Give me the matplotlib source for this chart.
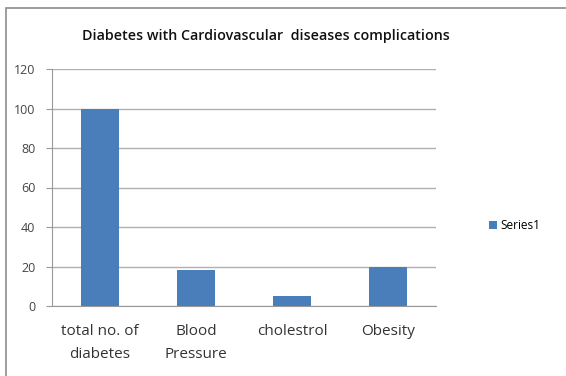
import matplotlib.pyplot as plt
from matplotlib.patches import Rectangle

# 数据
categories = ['total no. of\ndiabetes', 'Blood\nPressure', 'cholestrol', 'Obesity']
values = [100, 18, 5, 20]
y_ticks = [0, 20, 40, 60, 80, 100, 120]

plt.rcParams['font.family'] = ['Open Sans', 'DejaVu Sans']

fig = plt.figure(figsize=(5.66, 3.76), dpi=100)
# 外边框
fig.patches.append(Rectangle((6 / 566, -0.01), 1.0, 1 - 8 / 376 + 0.01, transform=fig.transFigure,
                             fill=False, edgecolor='#8c8c8c', linewidth=1.2))

ax = fig.add_axes([52 / 566, 1 - 306 / 376, 384 / 566, 237 / 376])
x = range(len(categories))
ax.bar(x, values, width=0.4, color='#4a7ebb', label='Series1', zorder=3)

ax.set_xlim(-0.5, len(categories) - 0.5)
ax.set_ylim(0, 120)
ax.set_yticks(y_ticks)
ax.set_xticks(list(x))
ax.set_xticklabels(categories, fontsize=11, color='#333333', linespacing=1.75)
ax.tick_params(axis='y', labelsize=9, colors='#444444', length=4, color='#999999', pad=8)
ax.tick_params(axis='x', length=0, pad=13)
ax.grid(axis='y', color='#b0b0b0', linewidth=1, zorder=0)
for s in ['top', 'right']:
    ax.spines[s].set_visible(False)
ax.spines['left'].set_color('#999999')
ax.spines['bottom'].set_color('#999999')

fig.text(0.47, 1 - 36 / 376, 'Diabetes with Cardiovascular  diseases complications',
         ha='center', va='center', fontsize=10.3, fontweight='semibold', color='#111111')

ax.legend(loc='center left', bbox_to_anchor=(1.11, 0.34), frameon=False, fontsize=8.5,
          handlelength=0.7, handleheight=0.7, handletextpad=0.3)

fig.savefig('out.png', dpi=100)
